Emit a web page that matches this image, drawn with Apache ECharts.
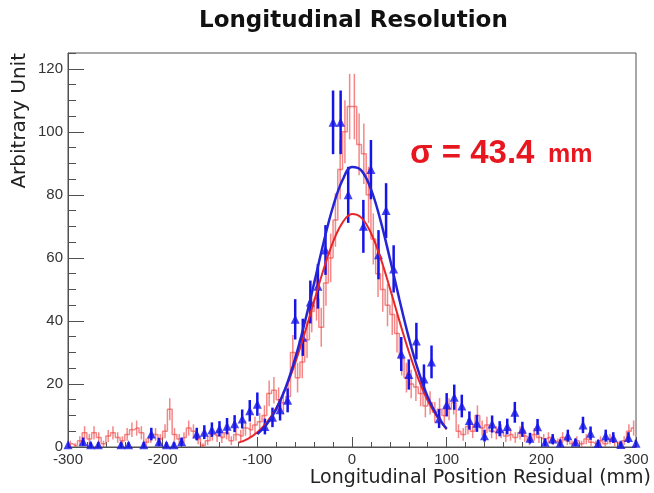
<!DOCTYPE html>
<html><head><meta charset="utf-8">
<script src="https://cdn.jsdelivr.net/npm/echarts@6/dist/echarts.min.js"></script>
<style>html,body{margin:0;padding:0;background:#fff}#c{width:654px;height:493px}</style>
</head><body><div id="c"></div>
<script>
// ---- data ----
const titleText = 'Longitudinal Resolution';
const xAxisTitle = 'Longitudinal Position Residual (mm)';
const yAxisTitle = 'Arbitrary Unit';
const sigmaText = 'σ = 43.4';
const sigmaUnit = 'mm';

// red histogram: 5 mm bins, first bin centre -297.5
const redFirstCenter = -297.5, redBinWidth = 5;
const redValues = [
 1, 0.5, 2, 4.5, 2.5, 4.5, 3, 1, 3.5, 4.5,
 3, 2, 4, 5.5, 6, 4.5, 1.5, 3, 4, 2.5,
 5, 12, 4, 2.5, 3, 6, 5, 2.5, 0.5, 2,
 4, 3.5, 3, 4.5, 2, 4, 3.5, 6, 5.5, 7,
 8, 10, 17, 18, 15, 14, 16, 30, 22, 27,
 34, 43, 47, 38, 52, 60, 72, 88, 100, 108,
 108, 96, 93, 80, 66, 55, 50, 45, 42, 36,
 28, 22, 20, 19, 17, 13, 14, 11, 12, 10,
 12, 14, 5, 4, 6.5, 5, 10, 6, 7, 5,
 4.5, 5, 3.5, 4, 3, 4.5, 3.5, 2, 4, 3,
 2.5, 3, 2, 1.5, 3, 2, 1, 2, 1, 2.5,
 1.5, 1, 2, 1, 2.5, 1.5, 1, 2, 5, 6];
const redErrors = [
 1, 0.7, 1.4, 2.1, 1.6, 2.1, 1.7, 1, 1.9, 2.1,
 1.7, 1.4, 2, 2.3, 2.4, 2.1, 1.2, 1.7, 2, 1.6,
 2.2, 3.5, 2, 1.6, 1.7, 2.4, 2.2, 1.6, 0.7, 1.4,
 2, 1.9, 1.7, 2.1, 1.4, 2, 1.9, 2.4, 2.3, 2.6,
 2.8, 3.2, 4.1, 4.2, 3.9, 3.7, 4, 5.5, 4.7, 5.2,
 5.8, 6.6, 6.9, 6.2, 7.2, 7.7, 8.5, 9.4, 10, 10.4,
 10.4, 9.8, 9.6, 8.9, 8.1, 7.4, 7.1, 6.7, 6.5, 6,
 5.3, 4.7, 4.5, 4.4, 4.1, 3.6, 3.7, 3.3, 3.5, 3.2,
 3.5, 3.7, 2.2, 2, 2.5, 2.2, 3.2, 2.4, 2.6, 2.2,
 2.1, 2.2, 1.9, 2, 1.7, 2.1, 1.9, 1.4, 2, 1.7,
 1.6, 1.7, 1.4, 1.2, 1.7, 1.4, 1, 1.4, 1, 1.6,
 1.2, 1, 1.4, 1, 1.6, 1.2, 1, 1.4, 2.2, 2.4];

// blue points: 8 mm bins, first bin centre -300 (null = no marker drawn)
const blueFirstCenter = -300, blueBinWidth = 8;
const blueValues = [
 0.7, null, 1.7, 0.7, 0.7, null, null, 0.7, 0.7, null,
 0.7, 4.1, 1.6, 0.7, 0.7, 1.7, null, 4.1, 4.7, 5.5,
 5.8, 6.6, 7.4, 8.9, 11.5, 13.6, 6.5, 9.4, 11.8, 14.8,
 40.5, 34.8, 46, 51, 62.5, 103, 103, 80, null, 70,
 88, 61, 75, 56.5, 29.5, 23, 33.6, 21.6, 27, 9,
 13.4, 15.8, 13, 8.4, 7.5, 3.6, 7.3, 5.8, 6.5, 11,
 5.6, 2.8, 6.4, 1.5, 2.5, 1.3, 3.6, 1.5, 7, 4.4,
 1.2, 3.6, 3, 0.8, 3, 1.2];
const blueErrors = [
 0.8, null, 1.3, 0.8, 0.8, null, null, 0.8, 0.8, null,
 0.8, 2, 1.3, 0.8, 0.8, 1.3, null, 2, 2.2, 2.3,
 2.4, 2.6, 2.7, 3, 3.4, 3.7, 2.5, 3.1, 3.4, 3.8,
 6.4, 5.9, 6.8, 7.1, 7.9, 10.1, 10.1, 8.9, null, 8.4,
 9.4, 7.8, 8.7, 7.5, 5.4, 4.8, 5.8, 4.6, 5.2, 3,
 3.7, 4, 3.6, 2.9, 2.7, 1.9, 2.7, 2.4, 2.5, 3.3,
 2.4, 1.7, 2.5, 1.2, 1.6, 1.1, 1.9, 1.2, 2.6, 2.1,
 1.1, 1.9, 1.7, 0.9, 1.7, 1.1];

// fitted gaussian curves
const blueFitX = [-100,-90,-80,-70,-60,-50,-40,-30,-20,-10,0,10,20,30,40,50,60,70,80,90,100];
const blueFitY = [4.1,7.2,12.0,18.9,28.1,39.4,52.0,64.9,76.3,84.7,88.8,87.7,81.8,72.0,59.8,46.9,34.7,24.2,15.9,9.9,5.8];
const redFitX = [-120,-110,-100,-90,-80,-70,-60,-50,-40,-30,-20,-10,0,10,20,30,40,50,60,70,80,90,100];
const redFitY = [1.4,2.6,4.7,7.8,12.4,18.7,26.7,36.1,46.3,56.4,65.1,71.2,73.9,72.7,67.9,60.1,50.4,40.1,30.3,21.7,14.7,9.5,5.6];

// axis ranges
const xMin = -300, xMax = 300, xStep = 100;
const yMin = 0, yMax = 125, yStep = 20, yMinorStep = 5;

// ---- build ----
const redHist = redValues.map((v, i) => [redFirstCenter + i * redBinWidth, v]);
const redErr = redValues.map((v, i) => [redFirstCenter + i * redBinWidth, v, redErrors[i]]);
const bluePts = [], blueErr = [];
blueValues.forEach((v, i) => {
  if (v === null) return;
  const x = blueFirstCenter + i * blueBinWidth;
  bluePts.push([x, v]);
  blueErr.push([x, v, blueErrors[i]]);
});
const blueFit = blueFitX.map((x, i) => [x, blueFitY[i]]);
const redFit = redFitX.map((x, i) => [x, redFitY[i]]);

function errRenderer(color, width) {
  return function (params, api) {
    const x = api.value(0), y = api.value(1), e = api.value(2);
    const p1 = api.coord([x, y - e]), p2 = api.coord([x, y + e]);
    return { type: 'line', shape: { x1: p1[0], y1: p1[1], x2: p2[0], y2: p2[1] },
      style: { stroke: color, lineWidth: width } };
  };
}

const AX = '#505050';
const RED_H = 'rgba(238,70,70,0.65)';
const chart = echarts.init(document.getElementById('c'), null, { renderer: 'canvas' });
chart.setOption({
  animation: false,
  backgroundColor: '#fff',
  title: {
    text: titleText, left: 194, top: 5,
    textStyle: { fontFamily: 'DejaVu Sans', fontWeight: 'bold', fontSize: 23, color: '#111' }
  },
  grid: { left: 68, right: 3, top: 53, bottom: 46, show: true, borderColor: AX, borderWidth: 1, backgroundColor: 'transparent' },
  xAxis: {
    type: 'value', min: xMin, max: xMax, interval: xStep,
    name: xAxisTitle, nameLocation: 'end', nameGap: 15,
    nameTextStyle: { fontFamily: 'DejaVu Sans', fontSize: 19, color: '#222', align: 'right', verticalAlign: 'top', padding: [22, 0, 0, 0] },
    axisLine: { onZero: false, lineStyle: { color: AX, width: 1 } },
    axisTick: { inside: true, length: 10, lineStyle: { color: AX } },
    minorTick: { show: true, splitNumber: 5, length: 5, lineStyle: { color: AX } },
    axisLabel: { fontFamily: 'Liberation Sans', fontSize: 15, color: '#333', margin: 5,
      alignMinLabel: 'center', alignMaxLabel: 'center' },
    splitLine: { show: false }
  },
  yAxis: [{
    type: 'value', min: yMin, max: yMax, interval: yMinorStep, position: 'left',
    axisLine: { show: false, onZero: false },
    axisTick: { inside: true, length: 8, lineStyle: { color: AX } },
    axisLabel: { show: false }, splitLine: { show: false }
  }, {
    type: 'value', min: yMin, max: yMax, interval: yStep, position: 'left', offset: 0,
    name: yAxisTitle, nameLocation: 'end', nameRotate: 90, nameGap: 0,
    nameTextStyle: { fontFamily: 'DejaVu Sans', fontSize: 20, color: '#222', align: 'right', verticalAlign: 'bottom', padding: [0, 0, 38, 0] },
    axisLine: { show: true, onZero: false, lineStyle: { color: AX, width: 1 } },
    axisTick: { inside: true, length: 16, lineStyle: { color: AX } },
    axisLabel: { fontFamily: 'Liberation Sans', fontSize: 15, color: '#333', margin: 5, showMaxLabel: false },
    splitLine: { show: false }
  }],
  graphic: [
    { type: 'text', left: 410, top: 137, z: 100,
      style: { text: sigmaText, fill: '#e8161e', font: 'bold 33px "Liberation Sans"' } },
    { type: 'text', left: 548, top: 143, z: 100,
      style: { text: sigmaUnit, fill: '#e8161e', font: 'bold 25px "Liberation Sans"' } }
  ],
  series: [
    { type: 'line', name: 'red hist', data: redHist, step: 'middle', symbol: 'none', clip: true,
      lineStyle: { color: RED_H, width: 1.5 }, z: 2 },
    { type: 'custom', name: 'red err', data: redErr, renderItem: errRenderer(RED_H, 1.5),
      encode: { x: 0, y: 1 }, clip: true, z: 3 },
    { type: 'custom', name: 'blue err', data: blueErr, renderItem: errRenderer('#1515e8', 2.5),
      encode: { x: 0, y: 1 }, clip: true, z: 4 },
    { type: 'scatter', name: 'blue', data: bluePts, symbol: 'triangle', symbolSize: 9,
      itemStyle: { color: '#1515e8' }, z: 5 },
    { type: 'line', name: 'red fit', data: redFit, smooth: 0.4, symbol: 'none',
      lineStyle: { color: '#e8262a', width: 2 }, z: 6 },
    { type: 'line', name: 'blue fit', data: blueFit, smooth: 0.4, symbol: 'none',
      lineStyle: { color: '#2525d5', width: 2.5 }, z: 7 }
  ]
});
</script></body></html>
